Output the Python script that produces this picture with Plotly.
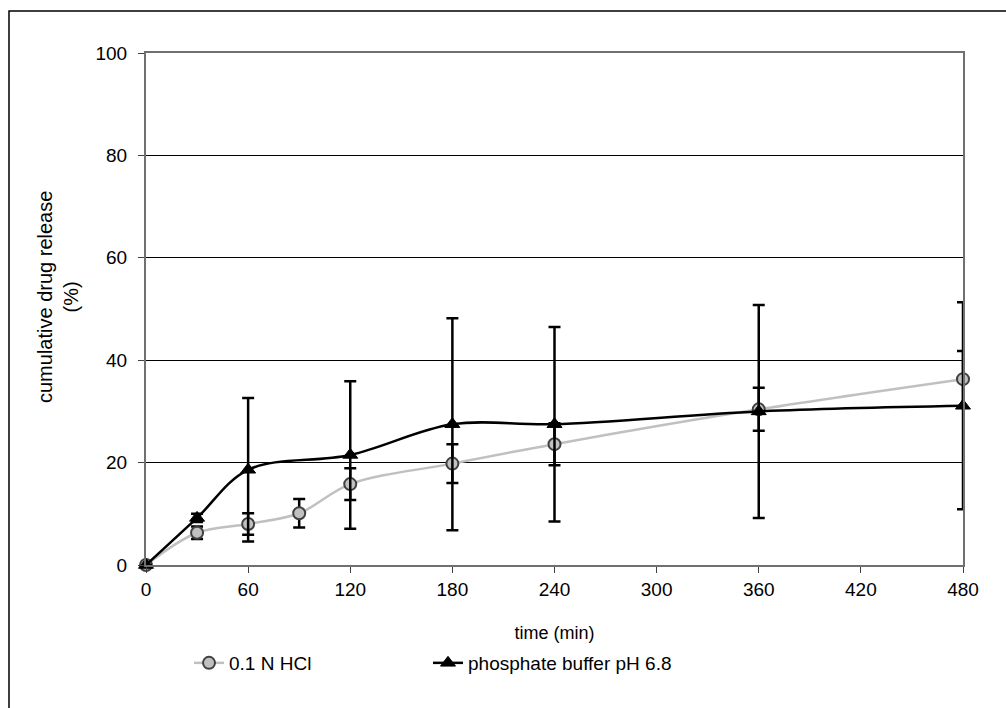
import plotly.graph_objects as go

# Sampling times (min)
time_hcl = [0, 30, 60, 90, 120, 180, 240, 360, 480]
time_pb = [0, 30, 60, 120, 180, 240, 360, 480]

# Cumulative drug release (%) and standard deviations
release_hcl = [0, 6.3, 8.0, 10.1, 15.8, 19.8, 23.6, 30.4, 36.3]
sd_hcl = [0, 1.2, 2.1, 2.8, 3.1, 3.8, 4.1, 4.2, 5.5]
release_pb = [0, 9.2, 18.6, 21.5, 27.5, 27.5, 30.0, 31.1]
sd_pb = [0, 0.8, 14.0, 14.4, 20.7, 19.0, 20.8, 20.2]

x_ticks = [0, 60, 120, 180, 240, 300, 360, 420, 480]
y_ticks = [0, 20, 40, 60, 80, 100]

FONT = "Liberation Sans, Arial, sans-serif"

fig = go.Figure()

fig.add_trace(go.Scatter(
    x=time_hcl, y=release_hcl, name="0.1 N HCl",
    mode="lines+markers",
    line=dict(color="#c0c0c0", width=2.5, shape="spline", smoothing=1),
    marker=dict(symbol="circle", size=12, color="#c0c0c0",
                line=dict(color="#404040", width=2)),
    error_y=dict(type="data", array=sd_hcl, visible=True,
                 color="black", thickness=2.5, width=6),
    cliponaxis=False,
    legend="legend",
))

fig.add_trace(go.Scatter(
    x=time_pb, y=release_pb, name="phosphate buffer pH 6.8",
    mode="lines+markers",
    line=dict(color="black", width=2.5, shape="spline", smoothing=1),
    marker=dict(symbol="triangle-up", size=13, color="black",
                line=dict(color="black", width=1)),
    error_y=dict(type="data", array=sd_pb, visible=True,
                 color="black", thickness=2.5, width=6),
    cliponaxis=False,
    legend="legend2",
))

fig.update_xaxes(
    range=[0, 480], tickvals=x_ticks, ticktext=[str(v) for v in x_ticks],
    showgrid=False, zeroline=False,
    showline=True, linecolor="#707070", linewidth=2, mirror=True,
    ticks="outside", ticklen=6, tickcolor="#404040", tickwidth=1,
    tickfont=dict(family=FONT, size=19, color="#000000"),
    title=dict(text="time (min)", font=dict(family=FONT, size=18, color="#000000"),
               standoff=28),
)
fig.update_yaxes(
    range=[0, 100], tickvals=y_ticks, ticktext=[str(v) for v in y_ticks],
    showgrid=True, gridcolor="black", gridwidth=1, zeroline=False,
    showline=True, linecolor="#707070", linewidth=2, mirror=True,
    ticks="outside", ticklen=6, tickcolor="#404040", tickwidth=1,
    ticklabelstandoff=7,
    tickfont=dict(family=FONT, size=19, color="#000000"),
)

# Two-line rotated y-axis label
fig.add_annotation(
    xref="paper", yref="paper", x=(58 - 146) / 817, y=(565 - 297) / 512,
    text="cumulative drug release<br>(%)", textangle=-90, showarrow=False,
    font=dict(family=FONT, size=20, color="#000000"), align="center",
    xanchor="center", yanchor="middle",
)

# Outer chart frame
fig.add_shape(
    type="rect", xref="paper", yref="paper",
    x0=(9 - 146) / 817, x1=2.0, y0=-1.0, y1=(565 - 11) / 512,
    line=dict(color="black", width=1.5), fillcolor="rgba(0,0,0,0)", layer="below",
)

legend_style = dict(
    orientation="h", yanchor="middle", xanchor="left",
    y=(565 - 663) / 512,
    font=dict(family=FONT, size=19, color="#000000"),
    bgcolor="rgba(0,0,0,0)",
)

fig.update_layout(
    width=1006, height=708,
    margin=dict(l=146, r=43, t=53, b=143),
    paper_bgcolor="white", plot_bgcolor="white",
    font=dict(family=FONT, color="#000000"),
    showlegend=True,
    legend=dict(legend_style, x=(189 - 146) / 817),
    legend2=dict(legend_style, x=(428 - 146) / 817),
)

fig.write_html("out.html")
